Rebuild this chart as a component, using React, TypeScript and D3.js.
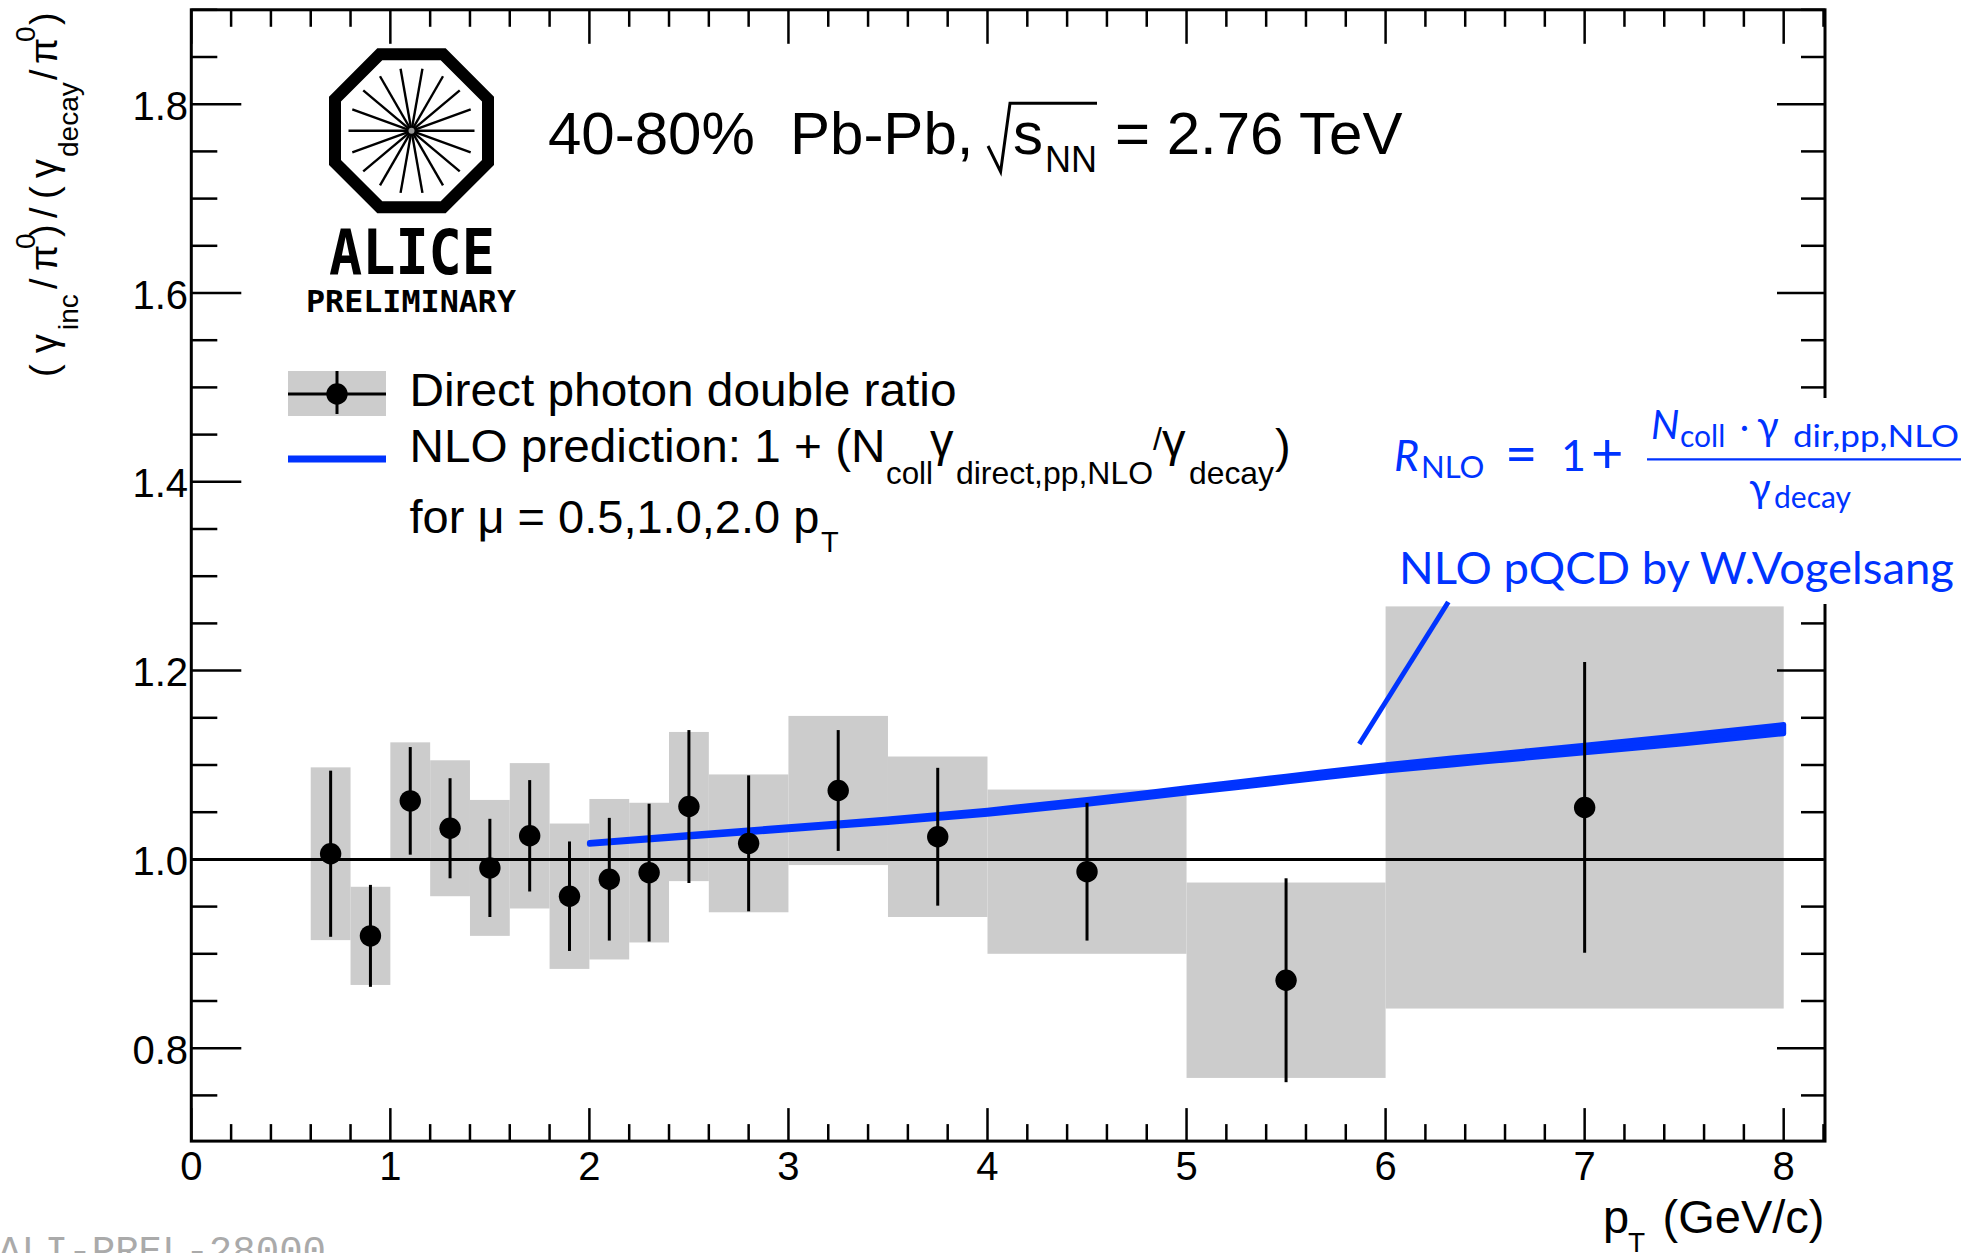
import React from 'react';
import * as d3 from 'd3';

const W = 1973;
const H = 1253;

// Direct photon double ratio, 40-80% Pb-Pb at 2.76 TeV
const ptCenters = [0.7, 0.9, 1.1, 1.3, 1.5, 1.7, 1.9, 2.1, 2.3, 2.5, 2.8, 3.25, 3.75, 4.5, 5.5, 7.0];
const binLow = [0.6, 0.8, 1.0, 1.2, 1.4, 1.6, 1.8, 2.0, 2.2, 2.4, 2.6, 3.0, 3.5, 4.0, 5.0, 6.0];
const binHigh = [0.8, 1.0, 1.2, 1.4, 1.6, 1.8, 2.0, 2.2, 2.4, 2.6, 3.0, 3.5, 4.0, 5.0, 6.0, 8.0];
const ratio = [1.006, 0.919, 1.062, 1.033, 0.991, 1.025, 0.961, 0.979, 0.986, 1.056, 1.017, 1.073, 1.024, 0.987, 0.872, 1.055];
const statErr = [0.088, 0.054, 0.057, 0.053, 0.052, 0.059, 0.058, 0.065, 0.073, 0.081, 0.072, 0.064, 0.073, 0.073, 0.108, 0.154];
const sysErr = [0.0915, 0.052, 0.062, 0.072, 0.072, 0.077, 0.077, 0.085, 0.074, 0.079, 0.073, 0.079, 0.085, 0.087, 0.1035, 0.213];

// NLO pQCD band (scale variation mu = 0.5, 1.0, 2.0 pT)
const nloPt = [2.0, 2.5, 3.0, 3.5, 4.0, 4.5, 5.0, 5.5, 6.0, 6.5, 7.0, 7.5, 8.0];
const nloLow = [1.016, 1.0237, 1.0314, 1.0391, 1.0478, 1.0585, 1.0702, 1.0819, 1.0936, 1.1033, 1.113, 1.1226, 1.1332];
const nloHigh = [1.018, 1.0263, 1.0346, 1.0429, 1.0522, 1.0635, 1.0758, 1.0881, 1.1004, 1.1107, 1.121, 1.1314, 1.1428];

const xTickLabels = ['0', '1', '2', '3', '4', '5', '6', '7', '8'];
const xMajorTicks = [0, 1, 2, 3, 4, 5, 6, 7, 8];
const yTickLabels = ['0.8', '1.0', '1.2', '1.4', '1.6', '1.8'];
const yMajorTicks = [0.8, 1.0, 1.2, 1.4, 1.6, 1.8];

// pointer from the theory label down to the band
const pointerFrom = { pt: 6.315, r: 1.2727 };
const pointerTo = { pt: 5.868, r: 1.1222 };

const BLUE = '#0033ff';
const GRAY = '#cccccc';
const SANS = "'Liberation Sans', Arial, Helvetica, sans-serif";
const GILL = "Lato, 'Open Sans', 'DejaVu Sans', sans-serif";
const MONO = "'DejaVu Sans Mono', 'Liberation Mono', monospace";

const x = d3.scaleLinear().domain([0, 8.2]).range([191.3, 1823.5]);
const y = d3.scaleLinear().domain([0.7, 1.9]).range([1142.6, 9.8]);

const xMinor = d3.range(0, 8.2001, 0.2).filter((v) => Math.abs(v - Math.round(v)) > 1e-6);
const yMinor = d3.range(0.75, 1.9001, 0.05).filter((v) => Math.abs(v * 5 - Math.round(v * 5)) > 1e-6);

function AliceLogo() {
  const cx = 411.5;
  const cy = 130.8;
  const rv = 76.5 / Math.cos(Math.PI / 8);
  const octagon = d3.range(8).map((k) => {
    const a = Math.PI / 8 + (k * Math.PI) / 4;
    return [cx + rv * Math.cos(a), cy + rv * Math.sin(a)];
  });
  const spokes = d3.range(9).map((k) => ((10 + 20 * k) * Math.PI) / 180);
  return (
    <g>
      <polygon
        points={octagon.map((p) => p.join(',')).join(' ')}
        fill="white"
        stroke="black"
        strokeWidth={12}
        strokeLinejoin="miter"
      />
      {spokes.map((a, i) => (
        <line
          key={i}
          x1={cx + 63 * Math.sin(a)}
          y1={cy - 63 * Math.cos(a)}
          x2={cx - 63 * Math.sin(a)}
          y2={cy + 63 * Math.cos(a)}
          stroke="black"
          strokeWidth={2.4}
        />
      ))}
      <circle cx={cx} cy={cy} r={3} fill="#999" />
      <text x={329} y={274} fontFamily={MONO} fontWeight="bold" fontSize={62} textLength={166} lengthAdjust="spacingAndGlyphs">
        ALICE
      </text>
      <text x={306} y={311.7} fontFamily={MONO} fontWeight="bold" fontSize={30} textLength={210} lengthAdjust="spacingAndGlyphs">
        PRELIMINARY
      </text>
    </g>
  );
}

function YTitle() {
  const main = 38;
  const sub = 28;
  const pieces: { t: string; at: number; size: number; dy: number }[] = [
    { t: '(', at: 0, size: main, dy: 0 },
    { t: 'γ', at: 24, size: main, dy: 0 },
    { t: 'inc', at: 47, size: sub, dy: 21 },
    { t: '/', at: 88, size: main, dy: 0 },
    { t: 'π', at: 106, size: main, dy: 0 },
    { t: '0', at: 128, size: sub, dy: -22 },
    { t: ')', at: 140, size: main, dy: 0 },
    { t: '/', at: 159, size: main, dy: 0 },
    { t: '(', at: 178, size: main, dy: 0 },
    { t: 'γ', at: 199, size: main, dy: 0 },
    { t: 'decay', at: 220, size: sub, dy: 21 },
    { t: '/', at: 297, size: main, dy: 0 },
    { t: 'π', at: 313, size: main, dy: 0 },
    { t: '0', at: 335, size: sub, dy: -22 },
    { t: ')', at: 352, size: main, dy: 0 },
  ];
  return (
    <g transform="translate(57,377) rotate(-90)" fontFamily={SANS}>
      {pieces.map((p, i) => (
        <text key={i} x={p.at} y={p.dy} fontSize={p.size}>
          {p.t}
        </text>
      ))}
    </g>
  );
}

export default function App() {
  const band = d3
    .area<number>()
    .x((_, i) => x(nloPt[i]))
    .y0((_, i) => y(nloLow[i]))
    .y1((_, i) => y(nloHigh[i]))
    .curve(d3.curveMonotoneX);
  const bandPath = band(nloPt) || '';

  const left = x(0);
  const right = x(8.2) + 1.5;
  const top = y(1.9);
  const bottom = y(0.7) - 1.5;

  return (
    <svg
      width={W}
      height={H}
      viewBox={`0 0 ${W} ${H}`}
      style={{ position: 'absolute', left: 0, top: 0, display: 'block', background: 'white' }}
    >
      <rect x={0} y={0} width={W} height={H} fill="white" />

      {/* systematic uncertainty boxes */}
      {ptCenters.map((_, i) => (
        <rect
          key={`sys${i}`}
          x={x(binLow[i])}
          y={y(ratio[i] + sysErr[i])}
          width={x(binHigh[i]) - x(binLow[i])}
          height={y(ratio[i] - sysErr[i]) - y(ratio[i] + sysErr[i])}
          fill={GRAY}
        />
      ))}

      {/* NLO band */}
      <path d={bandPath} fill={BLUE} stroke={BLUE} strokeWidth={5} strokeLinejoin="round" />

      {/* unity line */}
      <line x1={x(0)} x2={x(8.2)} y1={y(1)} y2={y(1)} stroke="black" strokeWidth={3} />

      {/* statistical error bars and points */}
      {ptCenters.map((pt, i) => (
        <line
          key={`stat${i}`}
          x1={x(pt)}
          x2={x(pt)}
          y1={y(ratio[i] + statErr[i])}
          y2={y(ratio[i] - statErr[i])}
          stroke="black"
          strokeWidth={3}
        />
      ))}
      {ptCenters.map((pt, i) => (
        <circle key={`pt${i}`} cx={x(pt)} cy={y(ratio[i])} r={10.7} fill="black" />
      ))}

      {/* frame */}
      <rect x={left} y={top} width={right - left} height={bottom - top} fill="none" stroke="black" strokeWidth={3} />

      {/* x ticks: bottom and top */}
      {xMajorTicks.map((v) => (
        <g key={`xM${v}`}>
          <line x1={x(v)} x2={x(v)} y1={bottom} y2={bottom - 33} stroke="black" strokeWidth={2.5} />
          <line x1={x(v)} x2={x(v)} y1={top} y2={top + 34} stroke="black" strokeWidth={2.5} />
        </g>
      ))}
      {xMinor.map((v, i) => (
        <g key={`xm${i}`}>
          <line x1={x(v)} x2={x(v)} y1={bottom} y2={bottom - 17} stroke="black" strokeWidth={2.5} />
          <line x1={x(v)} x2={x(v)} y1={top} y2={top + 17} stroke="black" strokeWidth={2.5} />
        </g>
      ))}
      {/* y ticks: left and right */}
      {yMajorTicks.map((v) => (
        <g key={`yM${v}`}>
          <line x1={left} x2={left + 50} y1={y(v)} y2={y(v)} stroke="black" strokeWidth={2.5} />
          <line x1={right} x2={right - 48} y1={y(v)} y2={y(v)} stroke="black" strokeWidth={2.5} />
        </g>
      ))}
      {yMinor.map((v, i) => (
        <g key={`ym${i}`}>
          <line x1={left} x2={left + 26} y1={y(v)} y2={y(v)} stroke="black" strokeWidth={2.5} />
          <line x1={right} x2={right - 24} y1={y(v)} y2={y(v)} stroke="black" strokeWidth={2.5} />
        </g>
      ))}

      {/* tick labels */}
      <g fontFamily={SANS} fontSize={40} fill="black">
        {xMajorTicks.map((v, i) => (
          <text key={`xl${v}`} x={x(v)} y={1180} textAnchor="middle">
            {xTickLabels[i]}
          </text>
        ))}
        {yMajorTicks.map((v, i) => (
          <text key={`yl${v}`} x={188} y={y(v) + 15.5} textAnchor="end">
            {yTickLabels[i]}
          </text>
        ))}
      </g>

      {/* axis titles */}
      <g fontFamily={SANS} fill="black">
        <text x={1603} y={1233} fontSize={47}>p</text>
        <text x={1628} y={1252} fontSize={28}>T</text>
        <text x={1824.5} y={1233} fontSize={47} textAnchor="end">(GeV/c)</text>
      </g>
      <YTitle />

      {/* logo */}
      <AliceLogo />

      {/* system label */}
      <g fontFamily={SANS} fill="black" fontSize={60}>
        <text x={548} y={154.3}>40-80%</text>
        <text x={790} y={154.3}>Pb-Pb,</text>
        <path d="M988,146 L1000.6,171.7 L1010,103.3 L1097,103.3" fill="none" stroke="black" strokeWidth={3} />
        <text x={1013} y={154.3}>s</text>
        <text x={1045} y={172} fontSize={36}>NN</text>
        <text x={1115} y={154.3}>= 2.76 TeV</text>
      </g>

      {/* legend */}
      <rect x={288} y={371} width={98} height={45} fill={GRAY} />
      <line x1={288} x2={386} y1={394} y2={394} stroke="black" strokeWidth={3} />
      <line x1={337} x2={337} y1={371} y2={414} stroke="black" strokeWidth={3} />
      <circle cx={337} cy={394} r={10.7} fill="black" />
      <line x1={288} x2={386} y1={459} y2={459} stroke={BLUE} strokeWidth={7} />

      <g fontFamily={SANS} fill="black" fontSize={47}>
        <text x={409.5} y={406} textLength={547} lengthAdjust="spacingAndGlyphs">Direct photon double ratio</text>
        <text x={409.5} y={462} textLength={476} lengthAdjust="spacingAndGlyphs">NLO prediction: 1 + (N</text>
        <text x={886} y={484} fontSize={32} textLength={47} lengthAdjust="spacingAndGlyphs">coll</text>
        <text x={930} y={456}>γ</text>
        <text x={956} y={484} fontSize={32} textLength={197} lengthAdjust="spacingAndGlyphs">direct,pp,NLO</text>
        <text x={1153} y={450} fontSize={32}>/</text>
        <text x={1162} y={456}>γ</text>
        <text x={1189} y={484} fontSize={32} textLength={85} lengthAdjust="spacingAndGlyphs">decay</text>
        <text x={1275} y={462}>)</text>
        <text x={409.5} y={533}>for μ = 0.5,1.0,2.0 p</text>
        <text x={821} y={552} fontSize={29}>T</text>
      </g>

      {/* backdrop of the theory annotation */}
      <rect x={1385} y={398} width={W - 1385} height={206} fill="white" />

      {/* pointer to the band */}
      <line
        x1={x(pointerFrom.pt)}
        y1={y(pointerFrom.r)}
        x2={x(pointerTo.pt)}
        y2={y(pointerTo.r)}
        stroke={BLUE}
        strokeWidth={5}
      />

      {/* theory formula and attribution */}
      <g fontFamily={GILL} fill={BLUE}>
        <text x={1394} y={471} fontSize={43} fontStyle="italic">R</text>
        <text x={1421} y={478} fontSize={31}>NLO</text>
        <text x={1505} y={473} fontSize={56}>=</text>
        <text x={1561} y={471} fontSize={43}>1</text>
        <text x={1591} y={473} fontSize={56}>+</text>
        <line x1={1647} x2={1961} y1={459.3} y2={459.3} stroke={BLUE} strokeWidth={2.3} />
        <text x={1651} y={439} fontSize={40} fontStyle="italic">N</text>
        <text x={1680} y={447} fontSize={30}>coll</text>
        <text x={1740} y={439} fontSize={34}>·</text>
        <text x={1757} y={440} fontSize={40}>γ</text>
        <text x={1793} y={447} textLength={166} lengthAdjust="spacingAndGlyphs" fontSize={30}>dir,pp,NLO</text>
        <text x={1749} y={502} fontSize={40}>γ</text>
        <text x={1774} y={508} fontSize={30}>decay</text>
        <text x={1399} y={584} fontSize={44} textLength={555} lengthAdjust="spacingAndGlyphs">
          NLO pQCD by W.Vogelsang
        </text>
      </g>

      {/* figure id */}
      <text x={-2} y={1263} fontFamily="'Liberation Mono', 'DejaVu Sans Mono', monospace" fontSize={39} fill="#aaaaaa" textLength={328} lengthAdjust="spacingAndGlyphs">
        ALI-PREL-28000
      </text>
    </svg>
  );
}
